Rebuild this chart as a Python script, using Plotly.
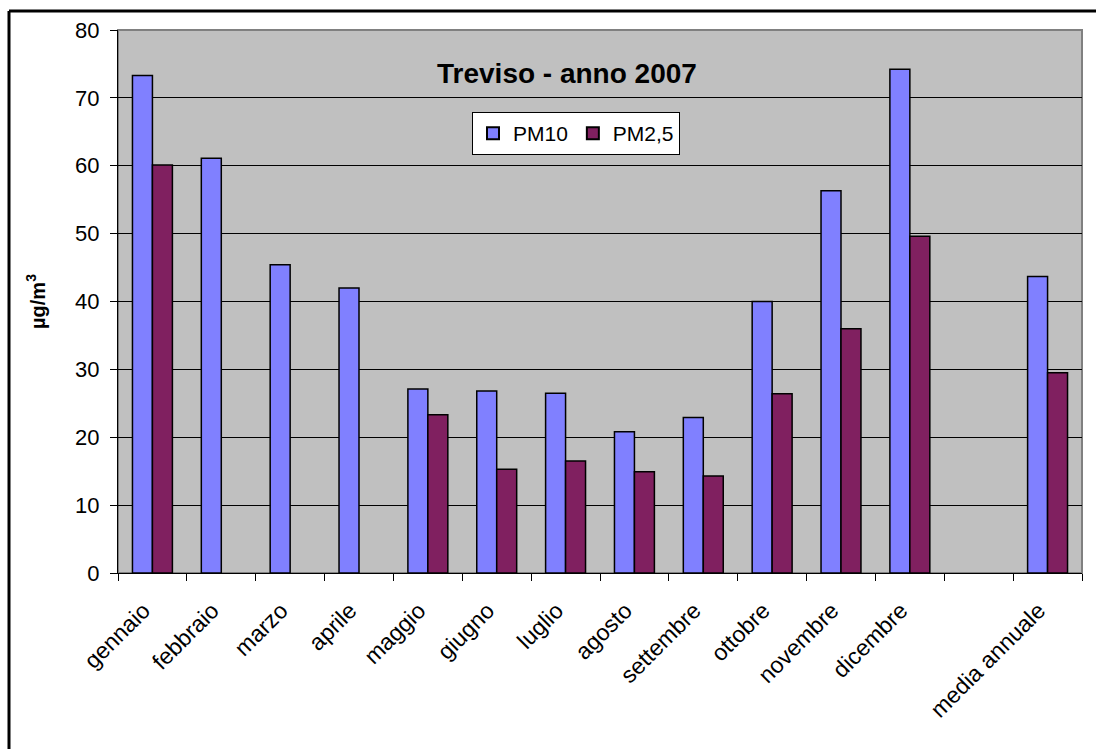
import plotly.graph_objects as go

# Monthly mean concentrations, Treviso 2007 (µg/m³)
categories = ["gennaio", "febbraio", "marzo", "aprile", "maggio", "giugno",
              "luglio", "agosto", "settembre", "ottobre", "novembre",
              "dicembre", " ", "media annuale"]
pm10 = [73.3, 61.1, 45.4, 42.0, 27.1, 26.8, 26.5, 20.8, 22.9, 40.0,
        56.3, 74.2, None, 43.7]
pm25 = [60.1, None, None, None, 23.3, 15.3, 16.5, 14.9, 14.3, 26.4,
        36.0, 49.6, None, 29.5]
y_ticks = [0, 10, 20, 30, 40, 50, 60, 70, 80]

FONT = "Liberation Sans, Arial, sans-serif"
W, H = 1096, 749
ML, MR, MT, MB = 118, 14, 30, 176
PW, PH = W - ML - MR, H - MT - MB

fig = go.Figure()
fig.add_trace(go.Bar(name="PM10", x=categories, y=pm10,
                     marker=dict(color="#8080FF",
                                 line=dict(color="black", width=1.5))))
fig.add_trace(go.Bar(name="PM2,5", x=categories, y=pm25,
                     marker=dict(color="#802060",
                                 line=dict(color="black", width=1.5))))

fig.update_layout(
    width=W, height=H,
    margin=dict(l=ML, r=MR, t=MT, b=MB),
    paper_bgcolor="white",
    plot_bgcolor="#C0C0C0",
    barmode="group",
    bargap=0.42,
    bargroupgap=0,
    font=dict(family=FONT, color="black", size=22),
    showlegend=True,
    legend=dict(orientation="h", x=(472 - ML) / PW, y=1 - (112 - MT) / PH,
                xanchor="left", yanchor="top",
                bgcolor="white", bordercolor="black", borderwidth=1,
                font=dict(size=21), traceorder="normal",
                itemwidth=30, itemsizing="constant"),
    annotations=[dict(text="<b>Treviso - anno 2007</b>", xref="paper",
                      yref="paper", x=(567 - ML) / PW,
                      y=1 - (73 - MT) / PH, xanchor="center",
                      yanchor="middle", showarrow=False,
                      font=dict(size=28, family=FONT))],
    shapes=[
        # chart frame (left and top edges visible)
        dict(type="line", xref="paper", yref="paper",
             x0=(9 - ML) / PW, x1=(1200 - ML) / PW,
             y0=1 + (MT - 11) / PH, y1=1 + (MT - 11) / PH,
             line=dict(color="black", width=3)),
        dict(type="line", xref="paper", yref="paper",
             x0=(9 - ML) / PW, x1=(9 - ML) / PW,
             y0=1 + (MT - 11) / PH, y1=-1,
             line=dict(color="black", width=3)),
        # plot area border
        dict(type="rect", xref="paper", yref="paper", x0=0, x1=1, y0=0, y1=1,
             line=dict(color="#808080", width=2), layer="below"),
    ],
)

fig.update_xaxes(
    type="category",
    tickangle=-45,
    tickson="boundaries",
    ticks="outside", ticklen=7, tickcolor="black",
    showline=True, linecolor="black", linewidth=1,
    showgrid=False,
    tickfont=dict(size=23),
    ticklabelstandoff=14,
    ticklabelshift=-9,
)
fig.update_yaxes(
    range=[0, 80],
    tickvals=y_ticks,
    ticks="outside", ticklen=7, tickcolor="black",
    showline=True, linecolor="black", linewidth=1,
    showgrid=True, gridcolor="black", gridwidth=1,
    zeroline=False,
    tickfont=dict(size=22),
    ticklabelstandoff=6,
    title=dict(text="<b>µg/m<sup>3</sup></b>", font=dict(size=20),
               standoff=24),
)

fig.write_html("out.html")
